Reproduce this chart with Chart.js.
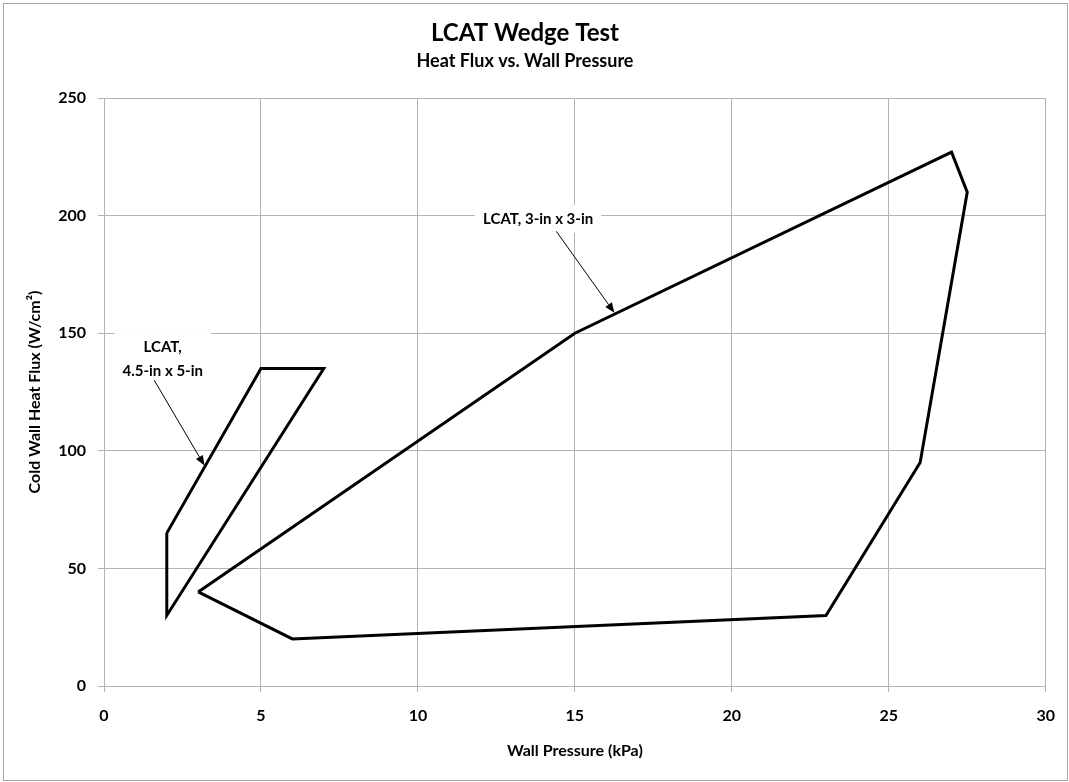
<!DOCTYPE html>
<html>
<head>
<meta charset="utf-8">
<title>LCAT Wedge Test</title>
<script src="https://cdn.jsdelivr.net/npm/chart.js@4.4.0/dist/chart.umd.min.js"></script>
<style>
html, body { margin: 0; padding: 0; background: #fff; }
#wrap { width: 1069px; height: 782px; }
</style>
</head>
<body>
<div id="wrap"><canvas id="chart" width="1069" height="782"></canvas></div>
<script>
// LCAT, 4.5-in x 5-in (closed outline)
var smallX = [2, 5, 7, 2, 2];
var smallY = [65, 135, 135, 30, 65];

// LCAT, 3-in x 3-in (closed outline)
var bigX = [3, 15, 27, 27.5, 26, 23, 6, 3];
var bigY = [40, 150, 227, 210, 95, 30, 20, 40];

var xTicks = [0, 5, 10, 15, 20, 25, 30];
var yTicks = [0, 50, 100, 150, 200, 250];

// callouts, anchored in data units
var labelText = [["LCAT,", "4.5-in x 5-in"], ["LCAT, 3-in x 3-in"]];
var labelX = [1.87, 13.83];
var labelY = [139, 198.6];
var arrowFrom = [[1.6, 130], [14.41, 193.3]];
var arrowTo = [[3.2, 93.7], [16.26, 158.7]];

var fontFam = "Lato, 'Open Sans', sans-serif";
var gridCol = '#b3b3b3';

function toPoints(xs, ys) {
	var pts = [];
	for (var i = 0; i < xs.length; i++) {
		pts.push({x: xs[i], y: ys[i]});
	}
	return pts;
}

var calloutPlugin = {
	id: 'callouts',
	beforeDatasetsDraw: function(chart) {
		var ctx = chart.ctx, sx = chart.scales.x, sy = chart.scales.y;
		ctx.save();
		ctx.font = 'bold 15px ' + fontFam;
		for (var i = 0; i < labelText.length; i++) {
			var lines = labelText[i];
			var w = 0;
			for (var j = 0; j < lines.length; j++) {
				w = Math.max(w, ctx.measureText(lines[j]).width);
			}
			var h = lines.length * 24;
			var cx = sx.getPixelForValue(labelX[i]);
			var cy = sy.getPixelForValue(labelY[i]);
			ctx.fillStyle = '#fff';
			ctx.fillRect(cx - w / 2 - 8, cy - h / 2 - 2, w + 16, h + 4);
		}
		ctx.restore();
	},
	afterDatasetsDraw: function(chart) {
		var ctx = chart.ctx, sx = chart.scales.x, sy = chart.scales.y;
		ctx.save();
		ctx.font = 'bold 15px ' + fontFam;
		ctx.fillStyle = '#000';
		ctx.textAlign = 'center';
		ctx.textBaseline = 'middle';
		for (var i = 0; i < labelText.length; i++) {
			var lines = labelText[i];
			var cx = sx.getPixelForValue(labelX[i]);
			var cy = sy.getPixelForValue(labelY[i]);
			var top = cy - (lines.length - 1) * 12;
			for (var j = 0; j < lines.length; j++) {
				ctx.fillText(lines[j], cx, top + j * 24);
			}
		}
		// arrows
		ctx.strokeStyle = '#000';
		ctx.lineWidth = 1;
		for (var k = 0; k < arrowFrom.length; k++) {
			var x1 = sx.getPixelForValue(arrowFrom[k][0]), y1 = sy.getPixelForValue(arrowFrom[k][1]);
			var x2 = sx.getPixelForValue(arrowTo[k][0]), y2 = sy.getPixelForValue(arrowTo[k][1]);
			var a = Math.atan2(y2 - y1, x2 - x1);
			var len = 10, half = 4;
			var bx = x2 - len * Math.cos(a), by = y2 - len * Math.sin(a);
			ctx.beginPath();
			ctx.moveTo(x1, y1);
			ctx.lineTo(bx, by);
			ctx.stroke();
			ctx.beginPath();
			ctx.moveTo(x2, y2);
			ctx.lineTo(bx + half * Math.sin(a), by - half * Math.cos(a));
			ctx.lineTo(bx - half * Math.sin(a), by + half * Math.cos(a));
			ctx.closePath();
			ctx.fill();
		}
		ctx.restore();
	},
	afterDraw: function(chart) {
		var ctx = chart.ctx;
		ctx.save();
		ctx.strokeStyle = '#a6a6a6';
		ctx.lineWidth = 1;
		ctx.strokeRect(3.5, 3.5, chart.width - 5, chart.height - 5);
		ctx.restore();
	}
};

var ctx = document.getElementById('chart').getContext('2d');
var chart = new Chart(ctx, {
	type: 'scatter',
	data: {
		datasets: [{
			label: 'LCAT, 4.5-in x 5-in',
			data: toPoints(smallX, smallY),
			showLine: true,
			borderColor: '#000',
			borderWidth: 3,
			pointRadius: 0,
			fill: false,
			tension: 0
		}, {
			label: 'LCAT, 3-in x 3-in',
			data: toPoints(bigX, bigY),
			showLine: true,
			borderColor: '#000',
			borderWidth: 3,
			pointRadius: 0,
			fill: false,
			tension: 0
		}]
	},
	options: {
		responsive: false,
		animation: false,
		devicePixelRatio: 1,
		layout: { padding: { left: 0, right: 19, top: 0, bottom: 0 } },
		plugins: {
			legend: { display: false },
			tooltip: { enabled: false },
			title: {
				display: true,
				text: 'LCAT Wedge Test',
				color: '#000',
				font: { family: fontFam, size: 24, weight: 'bold' },
				padding: { top: 19, bottom: 0 }
			},
			subtitle: {
				display: true,
				text: 'Heat Flux vs. Wall Pressure',
				color: '#000',
				font: { family: fontFam, size: 18, weight: 'bold' },
				padding: { top: 3, bottom: 25.6 }
			}
		},
		scales: {
			x: {
				type: 'linear',
				min: 0,
				max: 30,
				afterBuildTicks: function(s) { s.ticks = xTicks.map(function(v) { return {value: v}; }); },
				afterFit: function(s) { s.height = 96; },
				grid: { color: gridCol, lineWidth: 1, tickLength: 6 },
				border: { color: gridCol, width: 1 },
				ticks: { color: '#000', font: { family: fontFam, size: 16, weight: 'bold' }, padding: 14, maxRotation: 0 },
				title: {
					display: true,
					text: 'Wall Pressure (kPa)',
					color: '#000',
					font: { family: fontFam, size: 16, weight: 'bold' },
					padding: { top: 0, bottom: 22 }
				}
			},
			y: {
				type: 'linear',
				min: 0,
				max: 250,
				afterBuildTicks: function(s) { s.ticks = yTicks.map(function(v) { return {value: v}; }); },
				afterFit: function(s) { s.width = 104; },
				grid: { color: gridCol, lineWidth: 1, tickLength: 6 },
				border: { color: gridCol, width: 1 },
				ticks: { color: '#000', font: { family: fontFam, size: 16, weight: 'bold' }, padding: 12 },
				title: {
					display: true,
					text: 'Cold Wall Heat Flux (W/cm²)',
					color: '#000',
					font: { family: fontFam, size: 16, weight: 'bold' },
					padding: { top: 25, bottom: 0 }
				}
			}
		}
	},
	plugins: [calloutPlugin]
});
</script>
</body>
</html>
